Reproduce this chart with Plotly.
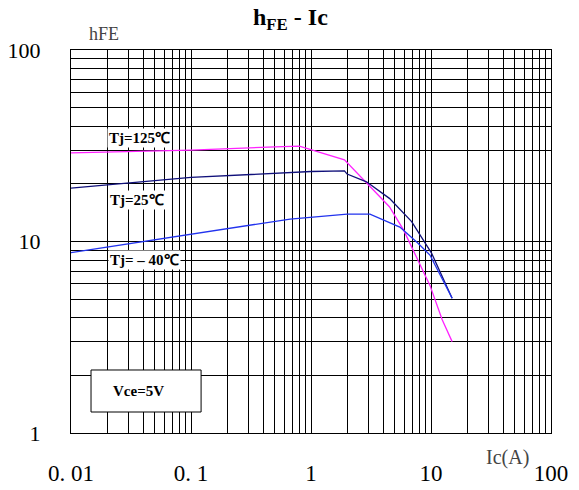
import plotly.graph_objects as go

# Data
ic_125 = [0.01, 0.1, 0.5, 0.8, 1.9, 3.0, 4.5, 5.9, 7.8, 9.8, 12.4, 15]
hfe_125 = [29.0, 30.0, 31.2, 31.5, 26.7, 19.8, 15.2, 11.5, 8.0, 5.9, 3.9, 3.0]

ic_25 = [0.01, 0.1, 1.0, 1.9, 2.0, 2.9, 4.5, 6.9, 10.1, 15]
hfe_25 = [19.0, 21.6, 23.2, 23.4, 22.5, 20.5, 16.8, 12.7, 8.7, 5.05]

ic_m40 = [0.01, 0.1, 0.67, 2.0, 3.1, 5.5, 7.8, 9.8, 15]
hfe_m40 = [8.75, 10.9, 13.1, 13.9, 13.9, 11.9, 9.8, 8.5, 5.05]

x_decades = [0.01, 0.1, 1, 10, 100]
x_labels = ["0. 01", "0. 1", "1", "10", "100"]
y_decades = [1, 10, 100]
y_labels = ["1", "10", "100"]

def log_grid(decades, labels):
    vals, texts = [], []
    for i, d in enumerate(decades):
        vals.append(d)
        texts.append(labels[i])
        if i < len(decades) - 1:
            for m in range(2, 10):
                vals.append(d * m)
                texts.append("")
    return vals, texts

xv, xt = log_grid(x_decades, x_labels)
yv, yt = log_grid(y_decades, y_labels)

fig = go.Figure()
fig.add_trace(go.Scatter(x=ic_125, y=hfe_125, mode="lines",
                         line=dict(color="#FF22FF", width=1.3), hoverinfo="skip"))
fig.add_trace(go.Scatter(x=ic_25, y=hfe_25, mode="lines",
                         line=dict(color="#10107A", width=1.3), hoverinfo="skip"))
fig.add_trace(go.Scatter(x=ic_m40, y=hfe_m40, mode="lines",
                         line=dict(color="#2233EE", width=1.3), hoverinfo="skip"))

serif = "Liberation Serif, Times New Roman, serif"

fig.update_layout(
    width=571, height=482,
    margin=dict(l=63, r=28, t=42, b=57, autoexpand=False),
    paper_bgcolor="white", plot_bgcolor="white",
    showlegend=False,
    xaxis=dict(type="log", range=[-2, 2], tickmode="array", tickvals=xv, ticktext=xt,
               showgrid=True, gridcolor="black", gridwidth=1, automargin=False,
               showline=True, linecolor="black", linewidth=1, mirror=True,
               ticks="", ticklabelstandoff=19, zeroline=False,
               tickfont=dict(family=serif, size=23, color="black")),
    yaxis=dict(type="log", range=[0, 2], tickmode="array", tickvals=yv, ticktext=yt,
               showgrid=True, gridcolor="black", gridwidth=1, automargin=False,
               showline=True, linecolor="black", linewidth=1, mirror=True,
               ticks="", ticklabelstandoff=25, zeroline=False,
               tickfont=dict(family=serif, size=22, color="black")),
)

# Title as an annotation, kept inside the page
fig.add_annotation(text="<b>h<sub>FE</sub> - Ic</b>", xref="paper", yref="paper",
                   x=0.457, y=1.082, xanchor="center", yanchor="middle", showarrow=False,
                   font=dict(family=serif, size=24, color="black"))

label_font = dict(family=serif, size=15, color="black")
fig.add_annotation(text="<b>Tj=125℃</b>", xref="paper", yref="paper", x=0.075, y=0.77,
                   xanchor="left", yanchor="middle", showarrow=False, bgcolor="white",
                   font=label_font, borderpad=1)
fig.add_annotation(text="<b>Tj=25℃</b>", xref="paper", yref="paper", x=0.077, y=0.608,
                   xanchor="left", yanchor="middle", showarrow=False, bgcolor="white",
                   font=label_font, borderpad=1)
fig.add_annotation(text="<b>Tj= – 40℃</b>", xref="paper", yref="paper", x=0.077, y=0.452,
                   xanchor="left", yanchor="middle", showarrow=False, bgcolor="white",
                   font=label_font, borderpad=1)

fig.add_shape(type="rect", xref="paper", yref="paper", x0=0.0417, x1=0.271,
              y0=0.0548, y1=0.1645, fillcolor="white", line=dict(color="black", width=1),
              layer="above")
fig.add_annotation(text="<b>Vce=5V</b>", xref="paper", yref="paper", x=0.1396, y=0.1097,
                   xanchor="center", yanchor="middle", showarrow=False,
                   font=dict(family=serif, size=15, color="black"))

fig.add_annotation(text="hFE", xref="paper", yref="paper", x=0.069, y=1.042,
                   xanchor="center", yanchor="middle", showarrow=False,
                   font=dict(family=serif, size=18, color="#444444"))
fig.add_annotation(text="Ic(A)", xref="paper", yref="paper", x=0.91, y=-0.063,
                   xanchor="center", yanchor="middle", showarrow=False,
                   font=dict(family=serif, size=20, color="#444444"))

fig.write_html("out.html")
